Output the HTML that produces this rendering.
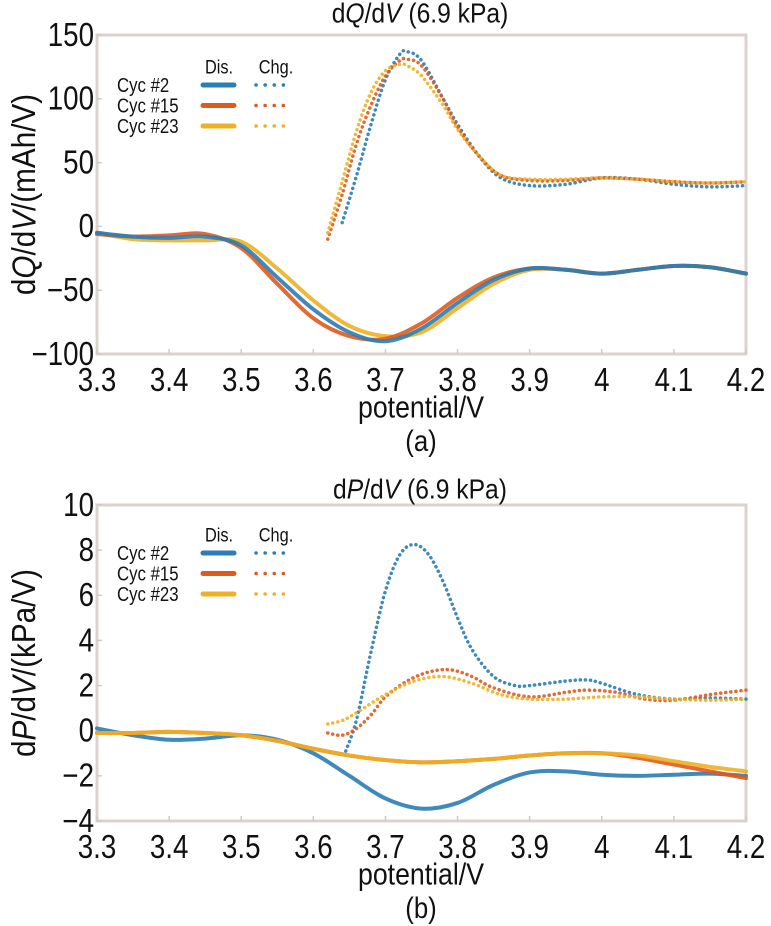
<!DOCTYPE html>
<html><head><meta charset="utf-8"><style>
html,body{margin:0;padding:0;background:#fff;}
svg{display:block;font-family:"Liberation Sans",sans-serif;}
</style></head><body>
<svg id="fig" width="771" height="926" viewBox="0 0 771 926"></svg>
<script>
// ---- chart (a) data ----
const xTicks = [3.3,3.4,3.5,3.6,3.7,3.8,3.9,4.0,4.1,4.2];
const xTickLabels = ["3.3","3.4","3.5","3.6","3.7","3.8","3.9","4","4.1","4.2"];
const aYTicks = [150,100,50,0,-50,-100];
const aYTickLabels = ["150","100","50","0","\u221250","\u2212100"];
const aDisX = [3.3,3.35,3.4,3.45,3.5,3.55,3.6,3.65,3.7,3.75,3.8,3.85,3.9,3.95,4.0,4.05,4.1,4.15,4.2];
const aDisCyc2 = [-5,-8,-9,-8,-15,-40,-65,-83,-90,-80,-60,-42,-33,-34,-37,-34,-31,-32,-37];
const aDisCyc15 = [-6,-8,-7,-6,-17,-45,-72,-86,-88,-76,-56,-40,-33,-34,-37,-34,-31,-32,-37];
const aDisCyc23 = [-5,-10,-11,-11,-12,-33,-58,-78,-86,-83,-64,-45,-34,-34,-37,-34,-31,-32,-37];
const aChgX2 = [3.64,3.66,3.68,3.70,3.72,3.73,3.75,3.78,3.8,3.83,3.86,3.9,3.95,4.0,4.05,4.1,4.15,4.2];
const aChgCyc2 = [3,40,80,115,135,137,130,100,80,55,38,32,33,38,37,33,31,32];
const aChgX = [3.62,3.64,3.66,3.68,3.70,3.72,3.73,3.75,3.78,3.8,3.83,3.86,3.9,3.95,4.0,4.05,4.1,4.15,4.2];
const aChgCyc15 = [-10,25,65,95,118,130,131,126,100,78,55,40,36,36,38,37,35,34,35];
const aChgCyc23 = [-5,35,75,105,122,127,126,118,95,76,55,40,37,37,38,37,35,34,35];
// ---- chart (b) data ----
const bYTicks = [10,8,6,4,2,0,-2,-4];
const bYTickLabels = ["10","8","6","4","2","0","\u22122","\u22124"];
const bDisX = [3.3,3.35,3.4,3.45,3.5,3.55,3.6,3.65,3.7,3.75,3.8,3.85,3.9,3.95,4.0,4.05,4.1,4.15,4.2];
const bDisCyc2 = [0.1,-0.2,-0.4,-0.35,-0.2,-0.4,-1.0,-2.0,-3.0,-3.45,-3.2,-2.4,-1.85,-1.8,-1.95,-2.0,-1.95,-1.9,-2.0];
const bDisCyc15 = [-0.1,-0.1,-0.05,-0.1,-0.2,-0.45,-0.8,-1.1,-1.3,-1.4,-1.35,-1.25,-1.1,-1.0,-1.0,-1.2,-1.5,-1.8,-2.1];
const bDisCyc23 = [-0.1,-0.1,-0.05,-0.1,-0.2,-0.45,-0.8,-1.1,-1.3,-1.4,-1.35,-1.25,-1.1,-1.0,-1.0,-1.1,-1.35,-1.6,-1.8];
const bChgX2 = [3.645,3.66,3.68,3.70,3.72,3.74,3.76,3.78,3.8,3.82,3.85,3.88,3.9,3.95,3.98,4.0,4.05,4.1,4.15,4.2];
const bChgCyc2 = [-0.9,0.5,3.5,6.2,7.8,8.25,7.8,6.6,5.0,3.6,2.4,2.0,2.0,2.2,2.25,2.1,1.6,1.4,1.45,1.4];
const bChgX15 = [3.62,3.64,3.66,3.68,3.7,3.73,3.76,3.79,3.82,3.85,3.9,3.95,3.98,4.02,4.06,4.1,4.15,4.2];
const bChgCyc15 = [-0.1,-0.2,0.1,0.7,1.5,2.2,2.6,2.7,2.4,1.9,1.5,1.7,1.8,1.7,1.4,1.35,1.6,1.8];
const bChgX23 = [3.62,3.64,3.66,3.7,3.74,3.78,3.82,3.86,3.9,3.95,4.0,4.05,4.1,4.15,4.2];
const bChgCyc23 = [0.3,0.45,0.8,1.6,2.2,2.4,2.1,1.6,1.4,1.4,1.5,1.5,1.4,1.35,1.4];

const C2="#2a7db5", C15="#e05a1c", C23="#eeb024";
const NS="http://www.w3.org/2000/svg";
const svg=document.getElementById('fig');
function el(tag,attrs,parent){const e=document.createElementNS(NS,tag);for(const k in attrs)e.setAttribute(k,attrs[k]);(parent||svg).appendChild(e);return e;}
function txt(x,y,s,size,anchor,parent,sx){
  const g=el('g',{transform:`translate(${x},${y}) scale(${sx||0.86},1)`},parent);
  const t=el('text',{x:0,y:0,'font-size':size,'text-anchor':anchor||'middle','dominant-baseline':'central',fill:'#111'},g);
  t.textContent=s;return t;}
function smooth(pts){let d=`M${pts[0][0]},${pts[0][1]}`;
  for(let i=0;i<pts.length-1;i++){const p0=pts[Math.max(0,i-1)],p1=pts[i],p2=pts[i+1],p3=pts[Math.min(pts.length-1,i+2)];
   d+=` C${p1[0]+(p2[0]-p0[0])/6},${p1[1]+(p2[1]-p0[1])/6} ${p2[0]-(p3[0]-p1[0])/6},${p2[1]-(p3[1]-p1[1])/6} ${p2[0]},${p2[1]}`;}
  return d;}

function chart(o){
  const X0=97,X1=746;
  const sx=v=>X0+(v-3.3)/(0.9)*(X1-X0);
  const sy=v=>o.top+(o.ymax-v)/(o.ymax-o.ymin)*(o.bot-o.top);
  const g=el('g',{});
  
  
  const frame=el('rect',{x:X0,y:o.top,width:X1-X0,height:o.bot-o.top,fill:'none',stroke:'#dcd2ce','stroke-width':3},g);
  
  xTicks.forEach((v,i)=>{
    el('line',{x1:sx(v),x2:sx(v),y1:o.bot,y2:o.bot-5,stroke:'#ccc','stroke-width':1.5},g);
    const t=txt(sx(v),o.bot+26,xTickLabels[i],33,'middle',g,0.84);
    
  });
  o.yTicks.forEach((v,i)=>{
    el('line',{x1:X0,x2:X0+5,y1:sy(v),y2:sy(v),stroke:'#ccc','stroke-width':1.5},g);
    const t=txt(X0-3,sy(v),o.yLabels[i],33,'end',g,0.84);
    
  });
  const tg=el('g',{transform:`translate(420,${o.titleY}) scale(0.88,1)`},g);
  const tt=el('text',{x:0,y:0,'font-size':28,'text-anchor':'middle','dominant-baseline':'central',fill:'#111'},tg);
  tt.innerHTML=o.title;
  
  const xl=txt(421,o.bot+54,'potential/V',31,'middle',g);
  
  const pl=txt(421,o.bot+87,o.panel,30,'middle',g);
  
  const yg=el('g',{transform:`translate(24,${(o.top+o.bot)/2}) rotate(-90) scale(0.9,1)`},g);
  const yt=el('text',{x:0,y:0,'font-size':33,'text-anchor':'middle','dominant-baseline':'central',fill:'#111'},yg);
  yt.innerHTML=o.ytitle;
  
  o.series.forEach(s=>{
    const pts=s.x.map((v,i)=>[sx(v),sy(s.y[i])]);
    const p=el('path',{d:smooth(pts),fill:'none',stroke:s.c,'stroke-width':s.dot?3.5:4,'stroke-linecap':'round','stroke-dasharray':s.dot?'0.1 5':'none','stroke-opacity':0.9},g);
    
  });
  const L=el('g',{},g);
  
  txt(219,o.legY,'Dis.',19,'middle',L);
  txt(276,o.legY,'Chg.',19,'middle',L);
  [['Cyc #2',C2],['Cyc #15',C15],['Cyc #23',C23]].forEach((r,i)=>{
    const y=o.legY+18+i*20.5;
    const lt=txt(117,y,r[0],20,'start',L,0.84);
    
    el('line',{x1:203,x2:234,y1:y,y2:y,stroke:r[1],'stroke-width':5,'stroke-linecap':'round'},L);
    el('line',{x1:256,x2:292,y1:y,y2:y,stroke:r[1],'stroke-width':3.5,'stroke-linecap':'round','stroke-dasharray':'0.1 9'},L);
  });
}

chart({name:'chart-dqdv',top:35,bot:354,ymax:150,ymin:-100,yTicks:aYTicks,yLabels:aYTickLabels,titleY:13,legY:67,panel:'(a)',
 title:'d<tspan font-style="italic">Q</tspan>/d<tspan font-style="italic">V</tspan> (6.9 kPa)',
 ytitle:'d<tspan font-style="italic">Q</tspan>/d<tspan font-style="italic">V</tspan>/(mAh/V)',
 series:[
  {name:'dis-cyc23',x:aDisX,y:aDisCyc23,c:C23},{name:'dis-cyc15',x:aDisX,y:aDisCyc15,c:C15},{name:'dis-cyc2',x:aDisX,y:aDisCyc2,c:C2},
  {name:'chg-cyc2',x:aChgX2,y:aChgCyc2,c:C2,dot:1},{name:'chg-cyc15',x:aChgX,y:aChgCyc15,c:C15,dot:1},{name:'chg-cyc23',x:aChgX,y:aChgCyc23,c:C23,dot:1}]});

chart({name:'chart-dpdv',top:505,bot:821,ymax:10,ymin:-4,yTicks:bYTicks,yLabels:bYTickLabels,titleY:489,legY:535,panel:'(b)',
 title:'d<tspan font-style="italic">P</tspan>/d<tspan font-style="italic">V</tspan> (6.9 kPa)',
 ytitle:'d<tspan font-style="italic">P</tspan>/d<tspan font-style="italic">V</tspan>/(kPa/V)',
 series:[
  {name:'dis-cyc2',x:bDisX,y:bDisCyc2,c:C2},{name:'dis-cyc15',x:bDisX,y:bDisCyc15,c:C15},{name:'dis-cyc23',x:bDisX,y:bDisCyc23,c:C23},
  {name:'chg-cyc2',x:bChgX2,y:bChgCyc2,c:C2,dot:1},{name:'chg-cyc15',x:bChgX15,y:bChgCyc15,c:C15,dot:1},{name:'chg-cyc23',x:bChgX23,y:bChgCyc23,c:C23,dot:1}]});
</script>
</body></html>
